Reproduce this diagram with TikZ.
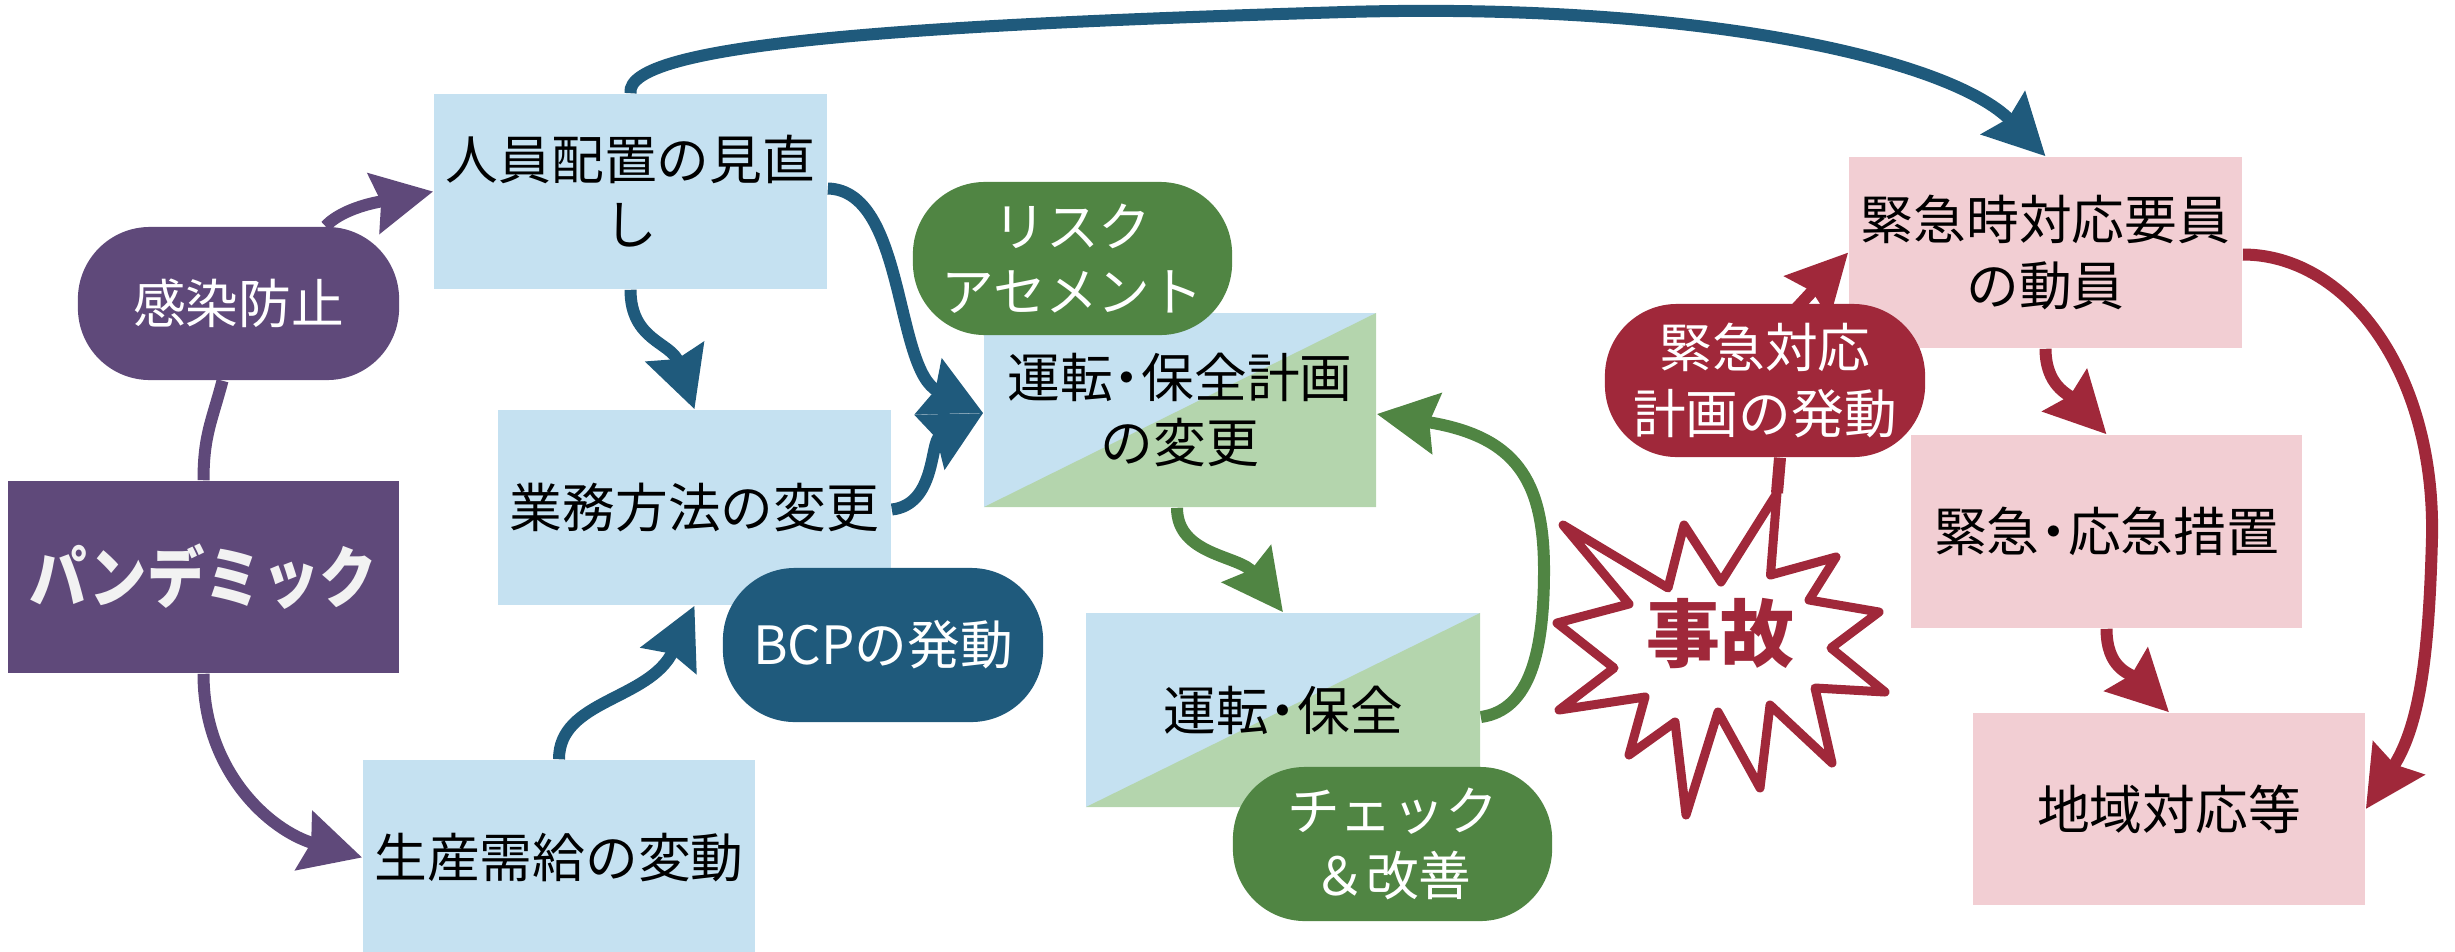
\documentclass[tikz,border=0pt]{standalone}
\usepackage{fontspec}
\setmainfont{Noto Sans CJK JP}
\newfontfamily\jpcond[FakeStretch=0.86]{Noto Sans CJK JP}
\usetikzlibrary{arrows.meta,calc}
\definecolor{cpurple}{HTML}{5F497A}
\definecolor{cblue}{HTML}{1F5A7C}
\definecolor{cgreen}{HTML}{508543}
\definecolor{cred}{HTML}{A0283A}
\definecolor{lblue}{HTML}{C5E1F1}
\definecolor{lgreen}{HTML}{B4D5AD}
\definecolor{cpink}{HTML}{F2CED3}
\definecolor{cwhite}{HTML}{F2F2F2}
\newcommand\nkdot{\kern-0.23em・\kern-0.23em}
\pgfdeclarelayer{bg}
\pgfsetlayers{bg,main}
\tikzset{
  box/.style={rectangle, inner sep=0pt, align=center, text=black,
    font=\fontsize{15pt}{18.5pt}\selectfont},
  bluebox/.style={box, fill=lblue},
  pinkbox/.style={box, fill=cpink},
  splitbox/.style={box, fill=lblue, path picture={
    \fill[lgreen] (path picture bounding box.south west) -- (path picture bounding box.north east)
      -- (path picture bounding box.south east) -- cycle;}},
  roundbox/.style={box, rounded corners=0.72cm, text=white,
    minimum width=3.2cm, minimum height=1.53cm},
  conn/.style={line width=0.12cm},
  arr/.style={conn, -{Stealth[length=0.6cm, width=0.6cm, inset=0.07cm]}},
  parr/.style={arr, draw=cpurple},
  barr/.style={arr, draw=cblue},
  garr/.style={arr, draw=cgreen},
  rarr/.style={arr, draw=cred},
  starline/.style={draw=cred, line width=0.09cm, fill=white, line join=round},
}
\begin{document}
\begin{tikzpicture}[x=0.01cm, y=-0.01cm]
\useasboundingbox (0,0) rectangle (2455,951);

% nodes
\node[box, fill=cpurple, text=cwhite, minimum width=3.91cm, minimum height=1.92cm,
  font=\jpcond\bfseries\fontsize{19pt}{22pt}\selectfont] (pan) at (203.5,577) {パンデミック};
\node[roundbox, fill=cpurple, minimum width=3.21cm] (kansen) at (238.5,303.5) {感染防止};
\node[bluebox, minimum width=3.93cm, minimum height=1.95cm] (jin) at (630.5,191.5) {人員配置の見直\\し};
\node[bluebox, minimum width=3.93cm, minimum height=1.95cm] (gyomu) at (694.5,507.5) {業務方法の変更};
\node[bluebox, minimum width=3.92cm, minimum height=1.95cm] (seisan) at (559,857.5) {生産需給の変動};
\node[roundbox, fill=cblue, minimum height=1.54cm] (bcp) at (883,645) {BCPの発動};
\node[splitbox, minimum width=3.92cm, minimum height=1.94cm] (keikaku) at (1180,410) {運転\nkdot 保全計画\\の変更};
\node[roundbox, fill=cgreen, minimum width=3.19cm] (risk) at (1072.5,258.5) {リスク\\アセメント};
\node[splitbox, minimum width=3.94cm, minimum height=1.94cm] (unten) at (1283,710) {運転\nkdot 保全};
\node[roundbox, fill=cgreen, minimum width=3.19cm, minimum height=1.54cm] (check) at (1392.5,844) {チェック\\＆改善};
\node[pinkbox, minimum width=3.93cm, minimum height=1.91cm] (youin) at (2045.5,252.5) {緊急時対応要員\\の動員};
\node[roundbox, fill=cred] (kinkyu) at (1765,380.5) {緊急対応\\計画の発動};
\node[pinkbox, minimum width=3.91cm, minimum height=1.93cm] (sochi) at (2106.5,531.5) {緊急\nkdot 応急措置};
\node[pinkbox, minimum width=3.92cm, minimum height=1.92cm] (chiiki) at (2169,809) {地域対応等};

% starburst
\coordinate (startop) at (1777,493);
\draw[starline] (startop) -- (1770.5,575) -- (1836,557) -- (1809,600) -- (1879,612) -- (1831,648)
  -- (1885,692) -- (1815,688) -- (1832,763) -- (1770,705) -- (1760,788) -- (1718,712)
  -- (1686,815) -- (1675,722) -- (1629,755) -- (1645,697) -- (1559,710) -- (1614,668)
  -- (1557,623) -- (1629,604) -- (1563,525) -- (1668,588) -- (1684,525) -- (1721,582) -- cycle;
\node[text=cred, font=\bfseries\fontsize{21pt}{24pt}\selectfont, inner sep=0pt] (jiko) at (1720,633) {事故};

\coordinate (htop) at (1346,12);
\coordinate (jmid) at (1544,570);
\coordinate (omid) at (2432,537);

\begin{pgfonlayer}{bg}
% purple
\draw[conn, draw=cpurple] (pan.north) .. controls ($(pan.north)+(0,-45)$) and ($(kansen.south)+(-26.5,40)$) .. ($(kansen.south)+(-16,0)$);
\draw[parr] ($(kansen.north)+(87,0)$) .. controls ($(kansen.north)+(108,-22)$) and ($(jin.west)+(-40,8)$) .. (jin.west);
\draw[parr] (pan.south) .. controls ($(pan.south)+(0,97)$) and ($(seisan.west)+(-93,-27)$) .. (seisan.west);
% blue
\draw[barr] (jin.south) .. controls ($(jin.south)+(0,51)$) and ($(gyomu.north)+(-23,-67)$) .. (gyomu.north);
\draw[barr] ($(jin.east)+(0,-3)$) .. controls ($(jin.east)+(78,-1)$) and ($(keikaku.west)+(-89,-40)$) .. ($(keikaku.west)+(0,3)$);
\draw[barr] ($(gyomu.east)+(0,2)$) .. controls ($(gyomu.east)+(44,-3)$) and ($(keikaku.west)+(-53,32)$) .. ($(keikaku.west)+(0,3)$);
\draw[barr] (seisan.north) .. controls ($(seisan.north)+(0,-60)$) and ($(gyomu.south)+(-45,95)$) .. (gyomu.south);
\draw[barr] (jin.north) .. controls ($(jin.north)+(-6,-49)$) and (900,25) .. (htop)
  .. controls (1700,2) and ($(youin.north)+(-95,-97)$) .. (youin.north);
% green
\draw[garr] ($(keikaku.south)+(-3,0)$) .. controls ($(keikaku.south)+(-3,48)$) and ($(unten.north)+(-43,-57)$) .. (unten.north);
\draw[garr] ($(unten.east)+(0,7)$) .. controls ($(unten.east)+(50,0)$) and (1544,650) .. (jmid)
  .. controls (1544,480) and ($(keikaku.east)+(139,26)$) .. ($(keikaku.east)+(0,4)$);
% red
\draw[conn, draw=cred] ($(kinkyu.south)+(15,0)$) -- (startop);
\draw[rarr] ($(kinkyu.north)+(25,12)$) -- (youin.west);
\draw[rarr] (youin.south) .. controls ($(youin.south)+(0,37)$) and ($(sochi.north)+(-38,-40)$) .. (sochi.north);
\draw[rarr] (sochi.south) .. controls ($(sochi.south)+(0,40)$) and ($(chiiki.north)+(-39,-39)$) .. (chiiki.north);
\draw[rarr] ($(youin.east)+(0,2)$) .. controls ($(youin.east)+(103,2)$) and (2435,370) .. (omid)
  .. controls (2429,650) and ($(chiiki.east)+(55,-85)$) .. (chiiki.east);
\end{pgfonlayer}
\end{tikzpicture}
\end{document}
